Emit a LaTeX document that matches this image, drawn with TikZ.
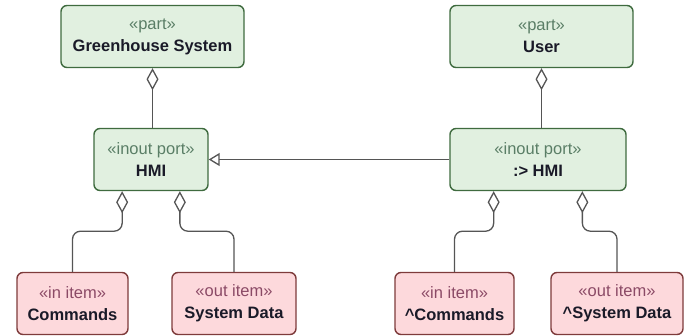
\documentclass[tikz,border=0pt]{standalone}
\usepackage{fontspec}
\setmainfont{Liberation Sans}
\usepackage{xcolor}
\usetikzlibrary{arrows.meta,calc}

\definecolor{partfill}{HTML}{E1F0E0}
\definecolor{partline}{HTML}{3F6B3F}
\definecolor{partster}{HTML}{5A7E66}
\definecolor{itemfill}{HTML}{FDD9DC}
\definecolor{itemline}{HTML}{7E3B3B}
\definecolor{itemster}{HTML}{8B4A66}
\definecolor{connline}{HTML}{555555}
\definecolor{nametext}{HTML}{1A1A28}

\begin{document}
\begin{tikzpicture}[x=1pt,y=-1pt,
  box/.style={line width=1.4pt, rounded corners=6pt, align=center, inner sep=0pt,
    minimum height=62pt, text=nametext, font=\fontsize{16.5}{22}\selectfont},
  partbox/.style={box, draw=partline, fill=partfill},
  itembox/.style={box, draw=itemline, fill=itemfill},
  agg/.style={draw=connline, line width=1.3pt, rounded corners=8pt,
    -{Diamond[open,length=22pt,width=12pt]}},
  gen/.style={draw=connline, line width=1.3pt, -{Triangle[open,length=11pt,width=13pt]}}]
\useasboundingbox (0,0) rectangle (684,335);
% parts
\node[partbox, minimum width=183pt] (gs) at (152.5,36.5)
  {\textcolor{partster}{«part»}\\\textbf{Greenhouse System}};
\node[partbox, minimum width=183pt] (user) at (541.5,36.5)
  {\textcolor{partster}{«part»}\\\textbf{User}};
% ports
\node[partbox, minimum width=114pt] (hmi) at (151,159.5)
  {\textcolor{partster}{«inout port»}\\\textbf{HMI}};
\node[partbox, minimum width=176pt] (uhmi) at (538,159.5)
  {\textcolor{partster}{«inout port»}\\\textbf{:> HMI}};
% items
\node[itembox, minimum width=111pt] (cmd) at (72.5,303.5)
  {\textcolor{itemster}{«in item»}\\\textbf{Commands}};
\node[itembox, minimum width=124pt] (sd) at (234,303.5)
  {\textcolor{itemster}{«out item»}\\\textbf{System Data}};
\node[itembox, minimum width=119pt] (ucmd) at (454.5,303.5)
  {\textcolor{itemster}{«in item»}\\\textbf{\^{}Commands}};
\node[itembox, minimum width=132pt] (usd) at (617,303.5)
  {\textcolor{itemster}{«out item»}\\\textbf{\^{}System Data}};
% port ends of the item links
\coordinate (hmi-a) at ($(hmi.south west)!0.25!(hmi.south east)$);
\coordinate (hmi-b) at ($(hmi.south west)!0.75!(hmi.south east)$);
\coordinate (uhmi-a) at ($(uhmi.south west)!0.25!(uhmi.south east)$);
\coordinate (uhmi-b) at ($(uhmi.south west)!0.75!(uhmi.south east)$);
% aggregations
\draw[agg] (gs.south |- hmi.north) -- (gs.south);
\draw[agg] (user.south |- uhmi.north) -- (user.south);
\draw[agg] (cmd.north) |- ($(hmi-a)+(0,40)$) -- (hmi-a);
\draw[agg] (sd.north) |- ($(hmi-b)+(0,40)$) -- (hmi-b);
\draw[agg] (ucmd.north) |- ($(uhmi-a)+(0,40)$) -- (uhmi-a);
\draw[agg] (usd.north) |- ($(uhmi-b)+(0,40)$) -- (uhmi-b);
% specialization
\draw[gen] (uhmi.west) -- (hmi.east);
\end{tikzpicture}
\end{document}
